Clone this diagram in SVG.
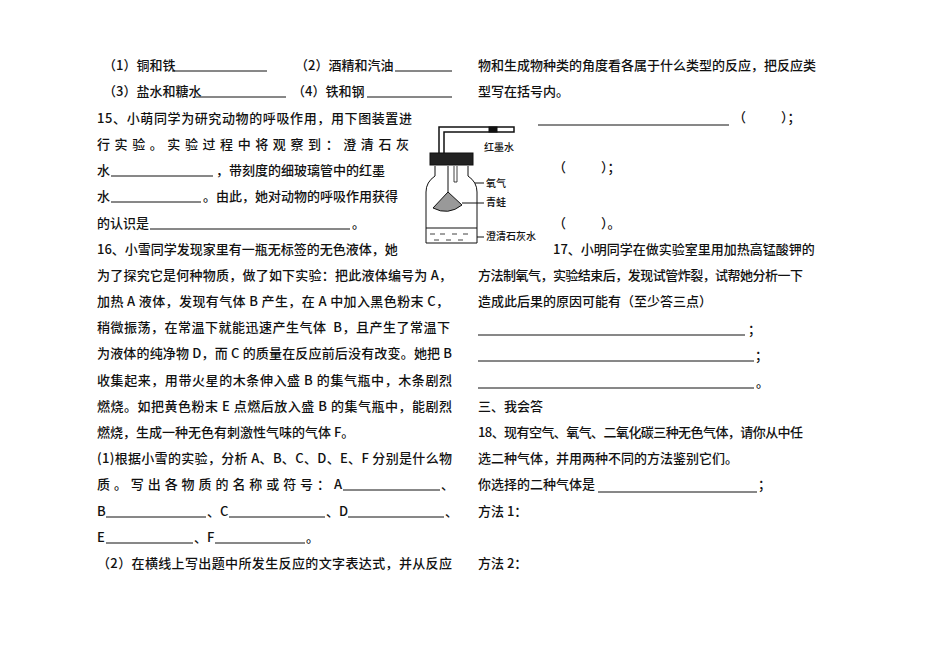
<svg xmlns="http://www.w3.org/2000/svg" width="950" height="672" viewBox="0 0 950 672">
<style>
text{font-family:"Noto Sans CJK SC","Liberation Serif",sans-serif;font-size:13px;fill:#111;font-weight:500}
.s{font-size:10px}
line{stroke:#111;stroke-width:1}
</style>
<rect width="950" height="672" fill="#fff"/>
<g id="left">
<text x="103" y="70">（1）铜和铁</text><line x1="172" y1="71" x2="267" y2="71"/>
<text x="295" y="70">（2）酒精和汽油</text><line x1="395" y1="71" x2="452" y2="71"/>
<text x="103" y="96">（3）盐水和糖水</text><line x1="196" y1="97" x2="286" y2="97"/>
<text x="292" y="96">（4）铁和钢</text><line x1="367" y1="97" x2="452" y2="97"/>
<text x="97" y="123" textLength="315" lengthAdjust="spacing">15、小萌同学为研究动物的呼吸作用，用下图装置进</text>
<text x="97" y="149" textLength="312" lengthAdjust="spacing">行实验。实验过程中将观察到：澄清石灰</text>
<text x="97" y="175">水</text><line x1="111" y1="176" x2="213" y2="176"/><text x="216" y="175">，带刻度的细玻璃管中的红墨</text>
<text x="97" y="201">水</text><line x1="111" y1="202" x2="201" y2="202"/><text x="203" y="201">。由此，她对动物的呼吸作用获得</text>
<text x="97" y="228">的认识是</text><line x1="150" y1="229" x2="350" y2="229"/><text x="352" y="228">。</text>
<text x="97" y="254">16、小雪同学发现家里有一瓶无标签的无色液体，她</text>
<text x="97" y="280" textLength="355" lengthAdjust="spacing">为了探究它是何种物质，做了如下实验：把此液体编号为 A，</text>
<text x="97" y="306" textLength="352" lengthAdjust="spacing">加热 A 液体，发现有气体 B 产生，在 A 中加入黑色粉末 C，</text>
<text x="97" y="332" textLength="353" lengthAdjust="spacing">稍微振荡，在常温下就能迅速产生气体&#160;&#160;B，且产生了常温下</text>
<text x="97" y="358" textLength="355" lengthAdjust="spacing">为液体的纯净物 D，而 C 的质量在反应前后没有改变。她把 B</text>
<text x="97" y="385" textLength="355" lengthAdjust="spacing">收集起来，用带火星的木条伸入盛 B 的集气瓶中，木条剧烈</text>
<text x="97" y="411" textLength="355" lengthAdjust="spacing">燃烧。如把黄色粉末 E 点燃后放入盛 B 的集气瓶中，能剧烈</text>
<text x="97" y="437">燃烧，生成一种无色有刺激性气味的气体 F。</text>
<text x="97" y="463" textLength="355" lengthAdjust="spacing">(1)根据小雪的实验，分析 A、B、C、D、E、F 分别是什么物</text>
<text x="97" y="489" textLength="245" lengthAdjust="spacing">质。写出各物质的名称或符号：A</text><line x1="343" y1="490" x2="440" y2="490"/><text x="441" y="489">、</text>
<text x="97" y="516">B</text><line x1="106" y1="517" x2="206" y2="517"/><text x="207" y="516">、C</text><line x1="229" y1="517" x2="325" y2="517"/><text x="326" y="516">、D</text><line x1="348" y1="517" x2="444" y2="517"/><text x="445" y="516">、</text>
<text x="97" y="542">E</text><line x1="106" y1="543" x2="193" y2="543"/><text x="194" y="542">、F</text><line x1="215" y1="543" x2="305" y2="543"/><text x="306" y="542">。</text>
<text x="97" y="568" textLength="355" lengthAdjust="spacing">（2）在横线上写出题中所发生反应的文字表达式，并从反应</text>
</g>
<g id="apparatus" fill="none" stroke="#111">
<path d="M444 158 V132 H514 V127 H439 V158" stroke-width="1.5"/>
<rect x="489" y="127" width="8" height="5" fill="#111"/>
<rect x="430" y="153" width="43" height="12" fill="#222"/>
<path d="M435 166 V176 Q426 182 426 192 V243 H477 V192 Q477 182 468 176 V166"/>
<line x1="426" y1="228" x2="477" y2="228"/>
<path d="M430 234 h5 M440 234 h5 M452 234 h5 M463 234 h5 M434 240 h5 M446 240 h5 M458 240 h5" stroke-width="0.8"/>
<line x1="448" y1="166" x2="448" y2="192"/>
<path d="M448 192 L433 208 Q448 216 462 205 Z" fill="#999"/>
<path d="M454 166 V182 h3 V166" stroke-width="0.8"/>
<line x1="475" y1="183" x2="484" y2="183"/>
<line x1="462" y1="203" x2="484" y2="203"/>
<line x1="477" y1="237" x2="484" y2="237"/>
</g>
<g id="labels">
<text x="484" y="151" class="s">红墨水</text>
<text x="486" y="187" class="s">氧气</text>
<text x="486" y="206" class="s">青蛙</text>
<text x="486" y="240" class="s">澄清石灰水</text>
</g>
<g id="right">
<text x="478" y="70">物和生成物种类的角度看各属于什么类型的反应，把反应类</text>
<text x="478" y="96">型写在括号内。</text>
<line x1="538" y1="125" x2="729" y2="125"/><text x="733" y="122">（&#160;&#160;&#160;&#160;&#160;&#160;&#160;&#160;&#160;&#160;&#160;&#160;）；</text>
<text x="553" y="172">（&#160;&#160;&#160;&#160;&#160;&#160;&#160;&#160;&#160;&#160;&#160;&#160;）；</text>
<text x="553" y="228">（&#160;&#160;&#160;&#160;&#160;&#160;&#160;&#160;&#160;&#160;&#160;&#160;）。</text>
<text x="553" y="254">17、小明同学在做实验室里用加热高锰酸钾的</text>
<text x="478" y="280" textLength="325" lengthAdjust="spacing">方法制氧气，实验结束后，发现试管炸裂，试帮她分析一下</text>
<text x="478" y="306">造成此后果的原因可能有（至少答三点）</text>
<line x1="478" y1="335" x2="745" y2="335"/><text x="748" y="334">；</text>
<line x1="478" y1="361" x2="754" y2="361"/><text x="755" y="360">；</text>
<line x1="478" y1="388" x2="754" y2="388"/><text x="756" y="387">。</text>
<text x="478" y="411">三、我会答</text>
<text x="478" y="437" textLength="325" lengthAdjust="spacing">18、现有空气、氧气、二氧化碳三种无色气体，请你从中任</text>
<text x="478" y="463">选二种气体，并用两种不同的方法鉴别它们。</text>
<text x="478" y="489">你选择的二种气体是</text><line x1="598" y1="492" x2="757" y2="492"/><text x="758" y="489">；</text>
<text x="478" y="516">方法 1：</text>
<text x="478" y="568">方法 2：</text>
</g>
</svg>
